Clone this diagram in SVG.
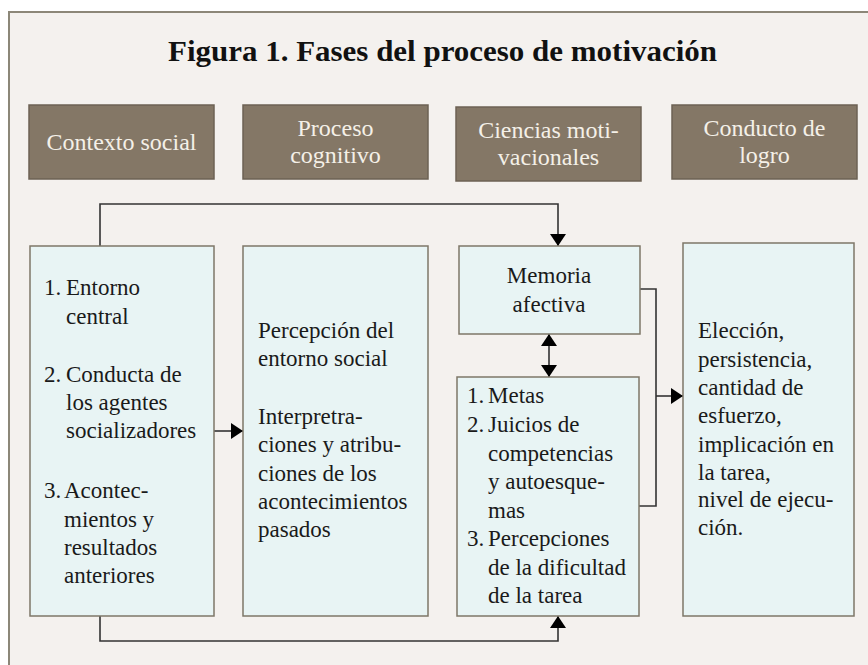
<svg xmlns="http://www.w3.org/2000/svg" width="868" height="665" viewBox="0 0 868 665">
<defs>
<style>
.frame{fill:#f4f1ee;stroke:#8c8778;stroke-width:2}
.hdr{fill:#847766;stroke:#6c6254;stroke-width:1.5}
.box{fill:#e8f4f4;stroke:#7e7768;stroke-width:1.5}
.ht{font-family:"Liberation Serif","DejaVu Serif",serif;font-size:24px;fill:#f4f0e8;text-anchor:middle}
.t{font-family:"Liberation Serif","DejaVu Serif",serif;font-size:23px;fill:#1a1a1a}
.tc{font-family:"Liberation Serif","DejaVu Serif",serif;font-size:23px;fill:#1a1a1a;text-anchor:middle}
.title{font-family:"Liberation Serif","DejaVu Serif",serif;font-size:30px;font-weight:bold;fill:#111}
.ln{fill:none;stroke:#333;stroke-width:1.6}
</style>
<marker id="ah" viewBox="0 0 12 16" refX="12" refY="8" markerWidth="12" markerHeight="16" markerUnits="userSpaceOnUse" orient="auto-start-reverse">
<path d="M0,0 L12,8 L0,16 Z" fill="#000"/>
</marker>
</defs>
<rect x="0" y="0" width="868" height="665" fill="#ffffff"/>
<rect class="frame" x="9" y="12" width="870" height="670"/>
<text class="title" x="168" y="61" textLength="549" lengthAdjust="spacingAndGlyphs">Figura 1. Fases del proceso de motivación</text>

<g id="h1"><rect class="hdr" x="29" y="105" width="185" height="74"/><text class="ht" x="121.5" y="150">Contexto social</text></g>
<g id="h2"><rect class="hdr" x="243" y="105" width="185" height="74"/><text class="ht" x="335.5" y="136">Proceso</text><text class="ht" x="335.5" y="163">cognitivo</text></g>
<g id="h3"><rect class="hdr" x="456" y="107" width="185" height="74"/><text class="ht" x="548.5" y="138">Ciencias moti-</text><text class="ht" x="548.5" y="165">vacionales</text></g>
<g id="h4"><rect class="hdr" x="672" y="105" width="185" height="74"/><text class="ht" x="764.5" y="136">Conducto de</text><text class="ht" x="764.5" y="163">logro</text></g>

<g id="connectors">
<path class="ln" d="M100,246 V204 H558 V246" marker-end="url(#ah)"/>
<path class="ln" d="M100,616 V641 H558 V616" marker-end="url(#ah)"/>
<path class="ln" d="M214,431 H243" marker-end="url(#ah)"/>
<path class="ln" d="M549,334 V377" marker-start="url(#ah)" marker-end="url(#ah)"/>
<path class="ln" d="M640,289 H656 V506 H639"/>
<path class="ln" d="M656,396 H683" marker-end="url(#ah)"/>
</g>

<g id="n1"><rect class="box" x="30" y="246" width="184" height="370"/>
<text class="t"><tspan x="44" y="295">1.</tspan><tspan x="66" y="295">Entorno</tspan><tspan x="66" y="324">central</tspan>
<tspan x="44" y="382">2.</tspan><tspan x="66" y="382">Conducta de</tspan><tspan x="66" y="410">los agentes</tspan><tspan x="66" y="438">socializadores</tspan>
<tspan x="44" y="498">3.</tspan><tspan x="64" y="498">Acontec-</tspan><tspan x="64" y="527">mientos y</tspan><tspan x="64" y="555">resultados</tspan><tspan x="64" y="583">anteriores</tspan></text></g>

<g id="n2"><rect class="box" x="243" y="246" width="185" height="370"/>
<text class="t"><tspan x="258" y="338">Percepción del</tspan><tspan x="258" y="366">entorno social</tspan>
<tspan x="258" y="424">Interpretra-</tspan><tspan x="258" y="452">ciones y atribu-</tspan><tspan x="258" y="480.5">ciones de los</tspan><tspan x="258" y="509">acontecimientos</tspan><tspan x="258" y="537">pasados</tspan></text></g>

<g id="n3"><rect class="box" x="459" y="246" width="181" height="88"/>
<text class="tc"><tspan x="549" y="283">Memoria</tspan><tspan x="549" y="312">afectiva</tspan></text></g>

<g id="n4"><rect class="box" x="457" y="377" width="182" height="239"/>
<text class="t"><tspan x="467" y="403">1.</tspan><tspan x="488" y="403">Metas</tspan>
<tspan x="467" y="432">2.</tspan><tspan x="488" y="432">Juicios de</tspan><tspan x="488" y="460.5">competencias</tspan><tspan x="488" y="489">y autoesque-</tspan><tspan x="488" y="517.5">mas</tspan>
<tspan x="467" y="546">3.</tspan><tspan x="488" y="546">Percepciones</tspan><tspan x="488" y="574.5">de la dificultad</tspan><tspan x="488" y="603">de la tarea</tspan></text></g>

<g id="n5"><rect class="box" x="683" y="243" width="171" height="373"/>
<text class="t"><tspan x="698" y="338">Elección,</tspan><tspan x="698" y="367">persistencia,</tspan><tspan x="698" y="395">cantidad de</tspan><tspan x="698" y="423">esfuerzo,</tspan><tspan x="698" y="452">implicación en</tspan><tspan x="698" y="480">la tarea,</tspan><tspan x="698" y="507">nivel de ejecu-</tspan><tspan x="698" y="535">ción.</tspan></text></g>
</svg>
